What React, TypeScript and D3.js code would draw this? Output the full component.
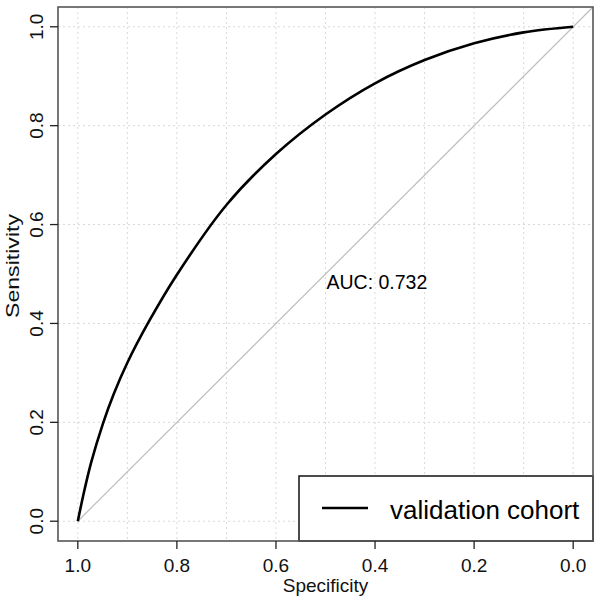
import React from "react";
import * as d3 from "d3";

const specificity = [1.0, 0.9895, 0.9733, 0.9491, 0.9277, 0.9, 0.857, 0.8, 0.7, 0.6, 0.5, 0.4, 0.3, 0.2, 0.1, 0.0];
const sensitivity = [0.0, 0.0501, 0.118, 0.198, 0.257, 0.3206, 0.403, 0.4986, 0.6396, 0.7426, 0.8226, 0.8857, 0.9327, 0.9667, 0.9887, 1.0];
const xTicks = [1.0, 0.8, 0.6, 0.4, 0.2, 0.0];
const yTicks = [0.0, 0.2, 0.4, 0.6, 0.8, 1.0];
const xGrid = [1.0, 0.9, 0.8, 0.7, 0.6, 0.5, 0.4, 0.3, 0.2, 0.1, 0.0];
const yGrid = [0.0, 0.2, 0.4, 0.6, 0.8, 1.0];
const aucLabel = "AUC: 0.732";
const legendLabel = "validation cohort";
const xTitle = "Specificity";
const yTitle = "Sensitivity";

export default function App() {
  const left = 58, right = 593, top = 7, bottom = 541;
  const x = d3.scaleLinear().domain([1.04, -0.04]).range([left, right]);
  const y = d3.scaleLinear().domain([-0.04, 1.04]).range([bottom, top]);
  const pts = specificity.map((s, i) => [s, sensitivity[i]] as [number, number]);
  const line = d3.line<[number, number]>().x(d => x(d[0])).y(d => y(d[1])).curve(d3.curveCatmullRom.alpha(0.5));
  const font = "'Liberation Sans', Arial, sans-serif";
  return (
    <svg width={600} height={601} style={{ position: "absolute", left: 0, top: 0, background: "#fff" }} fontFamily={font}>
      <rect x={0} y={0} width={600} height={601} fill="#fff" />
      {xGrid.map(g => (
        <line key={"gx" + g} x1={x(g)} x2={x(g)} y1={top} y2={bottom} stroke="#d9d9d9" strokeWidth={1} strokeDasharray="2,3" />
      ))}
      {yGrid.map(g => (
        <line key={"gy" + g} x1={left} x2={right} y1={y(g)} y2={y(g)} stroke="#d9d9d9" strokeWidth={1} strokeDasharray="2,3" />
      ))}
      <line x1={x(1)} y1={y(0)} x2={x(-0.04)} y2={y(1.04)} stroke="#bdbdbd" strokeWidth={1.2} />
      <path d={line(pts) || ""} fill="none" stroke="#000" strokeWidth={2.6} />
      <text x={x(0.5) + 1} y={y(0.5) + 15} fontSize={19.5} fill="#000">{aucLabel}</text>
      <rect x={299} y={476} width={right - 299} height={bottom - 476} fill="#fff" stroke="#111" strokeWidth={1.5} />
      <line x1={322} x2={368} y1={508} y2={508} stroke="#000" strokeWidth={2.4} />
      <text x={390} y={519} fontSize={26} fill="#000">{legendLabel}</text>
      <rect x={left} y={top} width={right - left} height={bottom - top} fill="none" stroke="#555" strokeWidth={1.6} />
      {xTicks.map(t => (
        <g key={"xt" + t}>
          <line x1={x(t)} x2={x(t)} y1={bottom} y2={bottom + 8} stroke="#222" strokeWidth={1.3} />
          <text x={x(t)} y={572} fontSize={19} textAnchor="middle" fill="#111">{t.toFixed(1)}</text>
        </g>
      ))}
      {yTicks.map(t => (
        <g key={"yt" + t}>
          <line x1={left - 8} x2={left} y1={y(t)} y2={y(t)} stroke="#222" strokeWidth={1.3} />
          <text transform={`translate(43,${y(t)}) rotate(-90)`} fontSize={19} textAnchor="middle" fill="#111">{t.toFixed(1)}</text>
        </g>
      ))}
      <text x={(left + right) / 2} y={592} fontSize={19} textAnchor="middle" fill="#111">{xTitle}</text>
      <text transform={`translate(18.5,266) rotate(-90)`} fontSize={19} textAnchor="middle" textLength={104} lengthAdjust="spacingAndGlyphs" fill="#111">{yTitle}</text>
    </svg>
  );
}
